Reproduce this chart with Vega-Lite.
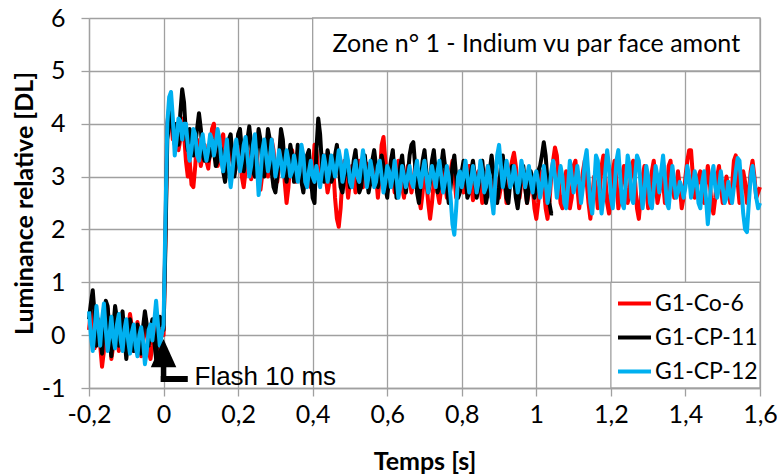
{
"$schema": "https://vega.github.io/schema/vega-lite/v6.json",
"width": 671, "height": 370,
"autosize": {"type": "none"},
"padding": {"left": 89, "top": 18, "right": 17, "bottom": 88},
"background": "white",
"config": {
 "font": "Lato",
 "view": {"stroke": null},
 "axis": {"gridColor": "#a0a0a0", "gridWidth": 1.3, "domainColor": "#a0a0a0", "domainWidth": 1.3, "tickColor": "#a0a0a0", "tickWidth": 1.3, "tickSize": 8, "labelFontSize": 25, "labelColor": "black", "labelFont": "Lato", "titleFont": "Lato", "titleFontSize": 25, "titleFontWeight": "bold", "titleColor": "black"}
},
"data": {"values": [
{"t":-0.2,"a":0.1,"b":0.3,"c":0.45},{"t":-0.195,"a":0.45,"b":0.6,"c":0.0},{"t":-0.19,"a":0.2,"b":0.85,"c":-0.3},{"t":-0.185,"a":-0.25,"b":0.4,"c":0.1},{"t":-0.18,"a":0.1,"b":-0.2,"c":0.55},{"t":-0.175,"a":0.3,"b":0.1,"c":0.2},{"t":-0.17,"a":-0.2,"b":0.0,"c":-0.2},{"t":-0.165,"a":-0.6,"b":-0.35,"c":0.3},{"t":-0.16,"a":-0.3,"b":0.2,"c":0.6},{"t":-0.155,"a":0.35,"b":0.65,"c":0.1},
{"t":-0.15,"a":0.5,"b":0.55,"c":-0.3},{"t":-0.145,"a":0.1,"b":0.0,"c":0.0},{"t":-0.14,"a":-0.45,"b":-0.4,"c":0.35},{"t":-0.135,"a":-0.2,"b":0.1,"c":-0.05},{"t":-0.13,"a":0.25,"b":0.55,"c":-0.25},{"t":-0.125,"a":0.1,"b":0.3,"c":0.2},{"t":-0.12,"a":-0.3,"b":-0.2,"c":0.4},{"t":-0.115,"a":-0.1,"b":0.2,"c":-0.1},{"t":-0.11,"a":0.3,"b":0.45,"c":-0.3},{"t":-0.105,"a":0.0,"b":0.0,"c":0.1},
{"t":-0.1,"a":-0.35,"b":-0.45,"c":0.3},{"t":-0.095,"a":0.1,"b":-0.1,"c":-0.1},{"t":-0.09,"a":0.4,"b":0.3,"c":-0.35},{"t":-0.085,"a":0.15,"b":0.1,"c":0.05},{"t":-0.08,"a":-0.3,"b":-0.3,"c":0.2},{"t":-0.075,"a":-0.1,"b":0.1,"c":-0.2},{"t":-0.07,"a":0.25,"b":0.2,"c":-0.4},{"t":-0.065,"a":0.0,"b":-0.1,"c":0.0},{"t":-0.06,"a":-0.4,"b":-0.35,"c":0.15},{"t":-0.055,"a":-0.1,"b":0.15,"c":-0.1},
{"t":-0.05,"a":0.35,"b":0.45,"c":-0.55},{"t":-0.045,"a":0.1,"b":0.2,"c":-0.3},{"t":-0.04,"a":-0.3,"b":-0.2,"c":0.1},{"t":-0.035,"a":-0.45,"b":0.1,"c":0.2},{"t":-0.03,"a":-0.2,"b":0.3,"c":-0.1},{"t":-0.025,"a":0.2,"b":-0.1,"c":0.25},{"t":-0.02,"a":0.0,"b":-0.45,"c":0.65},{"t":-0.015,"a":-0.3,"b":0.1,"c":0.2},{"t":-0.01,"a":0.1,"b":0.35,"c":-0.2},{"t":-0.005,"a":0.05,"b":0.2,"c":0.0},
{"t":0.0,"a":0.0,"b":0.1,"c":0.2},{"t":0.005,"a":1.9,"b":1.7,"c":2.2},{"t":0.01,"a":4.0,"b":3.7,"c":4.0},{"t":0.015,"a":4.3,"b":4.0,"c":4.5},{"t":0.02,"a":4.1,"b":4.2,"c":4.6},{"t":0.025,"a":3.7,"b":3.9,"c":4.1},{"t":0.03,"a":4.0,"b":3.6,"c":3.4},{"t":0.035,"a":3.9,"b":4.0,"c":3.7},{"t":0.04,"a":3.5,"b":3.6,"c":4.1},{"t":0.045,"a":3.7,"b":4.2,"c":4.05},
{"t":0.05,"a":4.1,"b":4.65,"c":3.7},{"t":0.055,"a":3.8,"b":4.4,"c":4.0},{"t":0.06,"a":3.3,"b":3.8,"c":4.0},{"t":0.065,"a":3.0,"b":3.5,"c":3.6},{"t":0.07,"a":3.3,"b":3.9,"c":3.3},{"t":0.075,"a":2.85,"b":3.7,"c":3.5},{"t":0.08,"a":2.8,"b":3.4,"c":3.9},{"t":0.085,"a":3.2,"b":3.6,"c":3.8},{"t":0.09,"a":3.7,"b":3.9,"c":3.4},{"t":0.095,"a":3.5,"b":4.2,"c":3.3},
{"t":0.1,"a":3.2,"b":3.9,"c":3.6},{"t":0.105,"a":3.4,"b":3.4,"c":3.8},{"t":0.11,"a":3.6,"b":3.3,"c":3.5},{"t":0.115,"a":3.3,"b":3.5,"c":3.3},{"t":0.12,"a":3.15,"b":3.3,"c":3.5},{"t":0.125,"a":3.5,"b":3.4,"c":3.8},{"t":0.13,"a":3.9,"b":3.7,"c":3.7},{"t":0.135,"a":4.0,"b":3.5,"c":3.4},{"t":0.14,"a":3.6,"b":3.2,"c":3.6},{"t":0.145,"a":3.2,"b":3.3,"c":3.9},
{"t":0.15,"a":3.35,"b":3.6,"c":3.7},{"t":0.155,"a":3.7,"b":3.5,"c":3.3},{"t":0.16,"a":3.8,"b":3.1,"c":3.1},{"t":0.165,"a":3.4,"b":2.9,"c":3.4},{"t":0.17,"a":3.1,"b":3.2,"c":3.7},{"t":0.175,"a":3.3,"b":3.7,"c":3.2},{"t":0.18,"a":3.6,"b":3.8,"c":2.8},{"t":0.185,"a":3.35,"b":3.4,"c":3.1},{"t":0.19,"a":3.05,"b":3.0,"c":3.5},{"t":0.195,"a":3.2,"b":3.3,"c":3.7},
{"t":0.2,"a":3.55,"b":3.8,"c":3.4},{"t":0.205,"a":3.4,"b":3.9,"c":3.1},{"t":0.21,"a":3.0,"b":3.5,"c":3.3},{"t":0.215,"a":2.8,"b":3.1,"c":3.6},{"t":0.22,"a":3.1,"b":3.3,"c":3.75},{"t":0.225,"a":3.5,"b":3.7,"c":3.4},{"t":0.23,"a":3.3,"b":3.95,"c":3.0},{"t":0.235,"a":2.95,"b":3.6,"c":3.2},{"t":0.24,"a":3.2,"b":3.1,"c":3.6},{"t":0.245,"a":3.6,"b":3.0,"c":3.8},
{"t":0.25,"a":3.4,"b":3.5,"c":3.3},{"t":0.255,"a":3.0,"b":3.9,"c":2.65},{"t":0.26,"a":2.75,"b":3.7,"c":3.0},{"t":0.265,"a":3.05,"b":3.2,"c":3.5},{"t":0.27,"a":3.5,"b":3.0,"c":3.7},{"t":0.275,"a":3.3,"b":3.4,"c":3.4},{"t":0.28,"a":3.0,"b":3.9,"c":3.1},{"t":0.285,"a":3.3,"b":3.7,"c":3.3},{"t":0.29,"a":3.7,"b":3.1,"c":3.7},{"t":0.295,"a":3.5,"b":2.8,"c":3.4},
{"t":0.3,"a":3.1,"b":2.7,"c":3.0},{"t":0.305,"a":2.9,"b":3.0,"c":3.2},{"t":0.31,"a":3.2,"b":3.4,"c":3.5},{"t":0.315,"a":3.8,"b":3.9,"c":3.3},{"t":0.32,"a":3.6,"b":3.7,"c":3.0},{"t":0.325,"a":2.9,"b":3.2,"c":3.2},{"t":0.33,"a":2.5,"b":2.9,"c":3.5},{"t":0.335,"a":2.8,"b":3.2,"c":3.3},{"t":0.34,"a":3.3,"b":3.6,"c":3.0},{"t":0.345,"a":3.5,"b":3.4,"c":3.1},
{"t":0.35,"a":3.2,"b":2.9,"c":3.4},{"t":0.355,"a":2.9,"b":3.1,"c":3.2},{"t":0.36,"a":3.1,"b":3.6,"c":2.9},{"t":0.365,"a":3.5,"b":3.4,"c":3.1},{"t":0.37,"a":3.3,"b":2.9,"c":3.6},{"t":0.375,"a":2.9,"b":2.7,"c":3.4},{"t":0.38,"a":3.05,"b":3.0,"c":2.9},{"t":0.385,"a":3.4,"b":3.4,"c":2.8},{"t":0.39,"a":3.1,"b":3.5,"c":3.1},{"t":0.395,"a":2.8,"b":3.0,"c":3.3},
{"t":0.4,"a":3.0,"b":2.6,"c":3.0},{"t":0.405,"a":3.6,"b":2.5,"c":2.9},{"t":0.41,"a":3.5,"b":3.5,"c":3.2},{"t":0.415,"a":3.1,"b":4.1,"c":3.0},{"t":0.42,"a":2.9,"b":3.8,"c":2.8},{"t":0.425,"a":3.2,"b":3.2,"c":3.1},{"t":0.43,"a":3.4,"b":2.9,"c":3.4},{"t":0.435,"a":3.0,"b":3.1,"c":3.2},{"t":0.44,"a":2.7,"b":3.5,"c":2.9},{"t":0.445,"a":2.9,"b":3.3,"c":3.1},
{"t":0.45,"a":3.3,"b":2.9,"c":3.4},{"t":0.455,"a":3.2,"b":3.0,"c":3.2},{"t":0.46,"a":2.6,"b":3.4,"c":3.0},{"t":0.465,"a":2.2,"b":3.6,"c":3.2},{"t":0.47,"a":2.05,"b":3.2,"c":3.5},{"t":0.475,"a":2.4,"b":2.8,"c":3.3},{"t":0.48,"a":3.0,"b":2.7,"c":2.9},{"t":0.485,"a":3.3,"b":3.0,"c":3.1},{"t":0.49,"a":3.0,"b":3.3,"c":3.5},{"t":0.495,"a":2.6,"b":3.1,"c":3.3},
{"t":0.5,"a":2.9,"b":2.8,"c":2.9},{"t":0.505,"a":3.2,"b":2.9,"c":2.8},{"t":0.51,"a":3.0,"b":3.3,"c":3.1},{"t":0.515,"a":2.7,"b":3.5,"c":3.3},{"t":0.52,"a":2.9,"b":3.1,"c":3.0},{"t":0.525,"a":3.3,"b":2.7,"c":2.9},{"t":0.53,"a":3.1,"b":2.8,"c":3.2},{"t":0.535,"a":2.8,"b":3.2,"c":3.5},{"t":0.54,"a":3.0,"b":3.4,"c":3.2},{"t":0.545,"a":3.25,"b":3.0,"c":2.8},
{"t":0.55,"a":3.1,"b":2.7,"c":3.0},{"t":0.555,"a":2.85,"b":2.9,"c":3.3},{"t":0.56,"a":3.1,"b":3.3,"c":3.1},{"t":0.565,"a":3.35,"b":3.5,"c":2.8},{"t":0.57,"a":3.0,"b":3.2,"c":2.9},{"t":0.575,"a":2.6,"b":2.8,"c":3.2},{"t":0.58,"a":3.0,"b":3.0,"c":3.3},{"t":0.585,"a":3.6,"b":3.4,"c":3.0},{"t":0.59,"a":3.75,"b":3.2,"c":2.7},{"t":0.595,"a":3.3,"b":2.8,"c":2.9},
{"t":0.6,"a":2.7,"b":2.6,"c":3.2},{"t":0.605,"a":2.9,"b":3.0,"c":3.1},{"t":0.61,"a":3.2,"b":3.3,"c":2.8},{"t":0.615,"a":3.0,"b":3.5,"c":3.0},{"t":0.62,"a":2.7,"b":3.0,"c":3.3},{"t":0.625,"a":3.0,"b":2.6,"c":3.0},{"t":0.63,"a":3.3,"b":2.8,"c":2.6},{"t":0.635,"a":3.1,"b":3.2,"c":2.8},{"t":0.64,"a":2.8,"b":3.4,"c":3.2},{"t":0.645,"a":2.6,"b":3.0,"c":3.0},
{"t":0.65,"a":2.9,"b":2.7,"c":2.8},{"t":0.655,"a":3.2,"b":3.0,"c":3.0},{"t":0.66,"a":3.0,"b":3.4,"c":3.2},{"t":0.665,"a":2.7,"b":3.6,"c":2.9},{"t":0.67,"a":2.9,"b":3.65,"c":2.8},{"t":0.675,"a":3.2,"b":3.2,"c":3.1},{"t":0.68,"a":3.0,"b":2.7,"c":3.3},{"t":0.685,"a":2.6,"b":2.5,"c":3.0},{"t":0.69,"a":2.4,"b":2.9,"c":2.8},{"t":0.695,"a":2.7,"b":3.3,"c":3.1},
{"t":0.7,"a":3.1,"b":3.5,"c":3.3},{"t":0.705,"a":2.9,"b":3.1,"c":3.0},{"t":0.71,"a":2.5,"b":2.7,"c":2.7},{"t":0.715,"a":2.2,"b":2.9,"c":3.0},{"t":0.72,"a":2.5,"b":3.3,"c":3.2},{"t":0.725,"a":2.9,"b":3.5,"c":3.0},{"t":0.73,"a":3.0,"b":3.1,"c":2.8},{"t":0.735,"a":2.7,"b":2.7,"c":3.1},{"t":0.74,"a":2.5,"b":2.8,"c":3.3},{"t":0.745,"a":2.8,"b":3.2,"c":3.0},
{"t":0.75,"a":3.1,"b":3.5,"c":2.7},{"t":0.755,"a":2.9,"b":3.2,"c":2.9},{"t":0.76,"a":2.6,"b":2.8,"c":3.2},{"t":0.765,"a":2.8,"b":2.5,"c":3.0},{"t":0.77,"a":3.1,"b":2.8,"c":2.6},{"t":0.775,"a":3.3,"b":3.2,"c":2.1},{"t":0.78,"a":3.0,"b":3.4,"c":1.9},{"t":0.785,"a":2.6,"b":3.0,"c":2.4},{"t":0.79,"a":2.8,"b":2.6,"c":3.0},{"t":0.795,"a":3.1,"b":2.7,"c":3.1},
{"t":0.8,"a":3.0,"b":3.1,"c":2.8},{"t":0.805,"a":2.7,"b":3.3,"c":3.0},{"t":0.81,"a":2.8,"b":3.0,"c":3.3},{"t":0.815,"a":3.1,"b":2.6,"c":3.0},{"t":0.82,"a":3.2,"b":2.7,"c":2.7},{"t":0.825,"a":2.9,"b":3.1,"c":2.9},{"t":0.83,"a":2.55,"b":3.3,"c":3.2},{"t":0.835,"a":2.7,"b":3.0,"c":3.0},{"t":0.84,"a":3.0,"b":2.6,"c":2.7},{"t":0.845,"a":3.1,"b":2.8,"c":2.9},
{"t":0.85,"a":2.8,"b":3.2,"c":3.3},{"t":0.855,"a":2.5,"b":3.3,"c":3.1},{"t":0.86,"a":2.7,"b":2.9,"c":2.7},{"t":0.865,"a":3.0,"b":2.5,"c":2.8},{"t":0.87,"a":3.2,"b":2.7,"c":3.2},{"t":0.875,"a":2.9,"b":3.1,"c":3.0},{"t":0.88,"a":2.6,"b":3.4,"c":2.6},{"t":0.885,"a":2.8,"b":3.1,"c":2.3},{"t":0.89,"a":3.0,"b":2.7,"c":2.9},{"t":0.895,"a":2.9,"b":2.5,"c":3.4},
{"t":0.9,"a":2.6,"b":2.8,"c":3.6},{"t":0.905,"a":2.8,"b":3.2,"c":3.2},{"t":0.91,"a":3.1,"b":3.4,"c":2.8},{"t":0.915,"a":2.9,"b":3.0,"c":3.0},{"t":0.92,"a":2.5,"b":2.6,"c":3.3},{"t":0.925,"a":2.7,"b":2.5,"c":3.1},{"t":0.93,"a":3.1,"b":2.9,"c":2.8},{"t":0.935,"a":3.3,"b":3.2,"c":2.9},{"t":0.94,"a":3.45,"b":3.0,"c":3.2},{"t":0.945,"a":3.2,"b":2.6,"c":3.0},
{"t":0.95,"a":2.8,"b":2.4,"c":2.7},{"t":0.955,"a":2.6,"b":2.7,"c":2.9},{"t":0.96,"a":2.9,"b":3.1,"c":3.3},{"t":0.965,"a":3.1,"b":3.2,"c":3.1},{"t":0.97,"a":2.8,"b":2.8,"c":2.8},{"t":0.975,"a":2.5,"b":2.5,"c":3.0},{"t":0.98,"a":2.7,"b":2.8,"c":3.2},{"t":0.985,"a":3.0,"b":3.1,"c":2.9},{"t":0.99,"a":2.8,"b":2.9,"c":2.7},{"t":0.995,"a":2.4,"b":2.6,"c":3.0},
{"t":1.0,"a":2.2,"b":2.8,"c":3.1},{"t":1.005,"a":2.5,"b":3.1,"c":2.9},{"t":1.01,"a":2.9,"b":3.2,"c":2.6},{"t":1.015,"a":3.1,"b":3.4,"c":2.8},{"t":1.02,"a":2.8,"b":3.65,"c":3.2},{"t":1.025,"a":2.4,"b":3.4,"c":2.9},{"t":1.03,"a":2.2,"b":2.9,"c":2.5},{"t":1.035,"a":2.5,"b":2.5,"c":2.7},{"t":1.04,"a":3.0,"b":2.3,"c":3.1},{"t":1.045,"a":3.3,"b":2.3,"c":3.3},
{"t":1.05,"a":3.55,"c":3.0},{"t":1.055,"a":3.4,"c":2.6},{"t":1.06,"a":2.9,"c":2.9},{"t":1.065,"a":2.5,"c":3.2},{"t":1.07,"a":2.4,"c":3.0},{"t":1.075,"a":2.7,"c":2.5},{"t":1.08,"a":3.1,"c":2.4},{"t":1.085,"a":2.9,"c":2.8},{"t":1.09,"a":2.4,"c":3.3},{"t":1.095,"a":2.6,"c":3.0},
{"t":1.1,"a":3.2,"c":2.7},{"t":1.105,"a":3.3,"c":2.9},{"t":1.11,"a":2.8,"c":3.2},{"t":1.115,"a":2.4,"c":2.9},{"t":1.12,"a":2.7,"c":2.5},{"t":1.125,"a":3.1,"c":2.8},{"t":1.13,"a":3.3,"c":3.3},{"t":1.135,"a":2.9,"c":3.5},{"t":1.14,"a":2.5,"c":3.0},{"t":1.145,"a":2.2,"c":2.5},
{"t":1.15,"a":2.6,"c":2.3},{"t":1.155,"a":3.0,"c":2.8},{"t":1.16,"a":2.8,"c":3.4},{"t":1.165,"a":2.4,"c":3.3},{"t":1.17,"a":2.7,"c":2.7},{"t":1.175,"a":3.2,"c":2.3},{"t":1.18,"a":3.4,"c":2.6},{"t":1.185,"a":3.0,"c":3.1},{"t":1.19,"a":2.5,"c":3.5},{"t":1.195,"a":2.3,"c":3.2},
{"t":1.2,"a":2.7,"c":2.6},{"t":1.205,"a":3.1,"c":2.4},{"t":1.21,"a":3.3,"c":2.8},{"t":1.215,"a":2.9,"c":3.3},{"t":1.22,"a":2.4,"c":3.5},{"t":1.225,"a":2.6,"c":3.0},{"t":1.23,"a":3.0,"c":2.5},{"t":1.235,"a":3.2,"c":2.4},{"t":1.24,"a":2.8,"c":2.9},{"t":1.245,"a":2.5,"c":3.4},
{"t":1.25,"a":2.7,"c":3.2},{"t":1.255,"a":3.2,"c":2.6},{"t":1.26,"a":3.3,"c":2.5},{"t":1.265,"a":2.9,"c":3.0},{"t":1.27,"a":2.4,"c":3.4},{"t":1.275,"a":2.2,"c":3.3},{"t":1.28,"a":2.6,"c":2.8},{"t":1.285,"a":3.0,"c":2.4},{"t":1.29,"a":3.2,"c":2.7},{"t":1.295,"a":2.8,"c":3.2},
{"t":1.3,"a":2.4,"c":3.0},{"t":1.305,"a":2.7,"c":2.5},{"t":1.31,"a":3.1,"c":2.4},{"t":1.315,"a":3.3,"c":2.8},{"t":1.32,"a":2.9,"c":3.2},{"t":1.325,"a":2.5,"c":3.0},{"t":1.33,"a":2.7,"c":2.7},{"t":1.335,"a":3.0,"c":3.1},{"t":1.34,"a":2.9,"c":3.4},{"t":1.345,"a":2.5,"c":3.0},
{"t":1.35,"a":2.7,"c":2.5},{"t":1.355,"a":3.2,"c":2.4},{"t":1.36,"a":3.3,"c":2.8},{"t":1.365,"a":2.9,"c":3.2},{"t":1.37,"a":2.6,"c":2.9},{"t":1.375,"a":2.8,"c":2.6},{"t":1.38,"a":3.1,"c":2.7},{"t":1.385,"a":2.8,"c":2.9},{"t":1.39,"a":2.4,"c":2.8},{"t":1.395,"a":2.6,"c":2.6},
{"t":1.4,"a":3.0,"c":2.8},{"t":1.405,"a":3.3,"c":3.2},{"t":1.41,"a":3.5,"c":3.0},{"t":1.415,"a":3.5,"c":2.6},{"t":1.42,"a":3.0,"c":2.8},{"t":1.425,"a":2.6,"c":3.1},{"t":1.43,"a":2.8,"c":2.9},{"t":1.435,"a":3.0,"c":2.5},{"t":1.44,"a":3.1,"c":2.4},{"t":1.445,"a":2.7,"c":2.9},
{"t":1.45,"a":2.5,"c":3.1},{"t":1.455,"a":2.9,"c":2.6},{"t":1.46,"a":3.2,"c":2.1},{"t":1.465,"a":2.9,"c":2.5},{"t":1.47,"a":2.5,"c":3.0},{"t":1.475,"a":2.3,"c":3.2},{"t":1.48,"a":2.6,"c":2.8},{"t":1.485,"a":3.0,"c":2.6},{"t":1.49,"a":3.2,"c":2.8},{"t":1.495,"a":2.8,"c":3.1},
{"t":1.5,"a":2.5,"c":2.8},{"t":1.505,"a":2.7,"c":2.5},{"t":1.51,"a":3.0,"c":2.6},{"t":1.515,"a":2.8,"c":2.9},{"t":1.52,"a":2.5,"c":2.7},{"t":1.525,"a":2.8,"c":2.5},{"t":1.53,"a":3.3,"c":2.8},{"t":1.535,"a":3.4,"c":3.1},{"t":1.54,"a":2.9,"c":3.35},{"t":1.545,"a":2.5,"c":3.3},
{"t":1.55,"a":2.7,"c":2.8},{"t":1.555,"a":3.1,"c":2.3},{"t":1.56,"a":2.9,"c":2.0},{"t":1.565,"a":2.5,"c":1.95},{"t":1.57,"a":2.7,"c":2.5},{"t":1.575,"a":3.1,"c":3.0},{"t":1.58,"a":3.3,"c":3.2},{"t":1.585,"a":3.0,"c":2.9},{"t":1.59,"a":2.6,"c":2.6},{"t":1.595,"a":2.7,"c":2.4},
{"t":1.6,"a":2.8,"c":2.5}
]},
"encoding": {
 "x": {"field": "t", "type": "quantitative",
  "scale": {"domain": [-0.2, 1.6], "nice": false, "zero": false},
  "axis": {"values": [-0.2, 0, 0.2, 0.4, 0.6, 0.8, 1, 1.2, 1.4, 1.6], "labelExpr": "replace(replace(format(datum.value, '.1~f'), '.', ','), '−', '-')", "title": "Temps [s]", "labelPadding": 6, "titlePadding": 22, "labelFlush": false}}
},
"layer": [
 {"mark": {"type": "line", "strokeWidth": 4, "strokeJoin": "round"},
  "encoding": {
   "y": {"field": "a", "type": "quantitative",
    "scale": {"domain": [-1, 6], "nice": false, "zero": false},
    "axis": {"values": [-1, 0, 1, 2, 3, 4, 5, 6], "labelExpr": "replace(format(datum.value, 'd'), '−', '-')", "title": "Luminance relative [DL]", "labelPadding": 16, "titlePadding": 4, "labelFlush": false}},
   "color": {"datum": "G1-Co-6", "type": "nominal",
    "scale": {"domain": ["G1-Co-6", "G1-CP-11", "G1-CP-12"], "range": ["#ff0000", "#000000", "#00b0f0"]},
    "legend": {"orient": "none", "legendX": 527, "legendY": 267, "title": null, "symbolType": "stroke", "symbolStrokeWidth": 4, "symbolSize": 1089, "labelFontSize": 23, "labelFont": "Lato", "labelColor": "black", "rowPadding": 3, "labelOffset": 2, "padding": 0}}
  }},
 {"mark": {"type": "line", "strokeWidth": 4, "strokeJoin": "round"},
  "encoding": {
   "y": {"field": "b", "type": "quantitative"},
   "color": {"datum": "G1-CP-11", "type": "nominal"}
  }},
 {"mark": {"type": "line", "strokeWidth": 4, "strokeJoin": "round"},
  "encoding": {
   "y": {"field": "c", "type": "quantitative"},
   "color": {"datum": "G1-CP-12", "type": "nominal"}
  }},
 {"transform": [{"filter": "datum.t == 0"}],
  "mark": {"type": "rect", "fill": "white", "stroke": "#a0a0a0", "strokeWidth": 1.3},
  "encoding": {"x": {"datum": 0.4, "type": "quantitative"}, "x2": {"datum": 1.6}, "y": {"datum": 5, "type": "quantitative"}, "y2": {"datum": 6}}},
 {"transform": [{"filter": "datum.t == 0"}],
  "mark": {"type": "text", "text": "Zone n° 1 - Indium vu par face amont", "font": "Lato", "fontSize": 25, "color": "black", "align": "center", "baseline": "middle"},
  "encoding": {"x": {"datum": 1.0, "type": "quantitative"}, "y": {"datum": 5.5, "type": "quantitative"}}},
 {"transform": [{"filter": "datum.t == 0"}],
  "mark": {"type": "rect", "fill": "white", "stroke": "#a0a0a0", "strokeWidth": 1.3},
  "encoding": {"x": {"datum": 1.2, "type": "quantitative"}, "x2": {"datum": 1.6}, "y": {"datum": -1, "type": "quantitative"}, "y2": {"datum": 1}}},
 {"transform": [{"filter": "datum.t == 0"}],
  "mark": {"type": "point", "shape": "M0,-1.1L-1,1.1L1,1.1Z", "size": 650, "filled": true, "color": "black", "opacity": 1, "strokeWidth": 0},
  "encoding": {"x": {"datum": 0, "type": "quantitative"}, "y": {"datum": -0.34, "type": "quantitative"}}},
 {"transform": [{"filter": "datum.t == 0"}],
  "mark": {"type": "rule", "strokeWidth": 5.5, "color": "black", "strokeCap": "butt"},
  "encoding": {"x": {"datum": 0, "type": "quantitative"}, "y": {"datum": -0.4, "type": "quantitative"}, "y2": {"datum": -0.887}}},
 {"transform": [{"filter": "datum.t == 0"}],
  "mark": {"type": "rule", "strokeWidth": 6, "color": "black", "strokeCap": "butt"},
  "encoding": {"x": {"datum": -0.0075, "type": "quantitative"}, "x2": {"datum": 0.065}, "y": {"datum": -0.83, "type": "quantitative"}}},
 {"transform": [{"filter": "datum.t == 0"}],
  "mark": {"type": "text", "text": "Flash 10 ms", "font": "Liberation Sans", "fontSize": 26, "color": "black", "align": "left", "baseline": "middle"},
  "encoding": {"x": {"datum": 0.083, "type": "quantitative"}, "y": {"datum": -0.8, "type": "quantitative"}}}
]
}
